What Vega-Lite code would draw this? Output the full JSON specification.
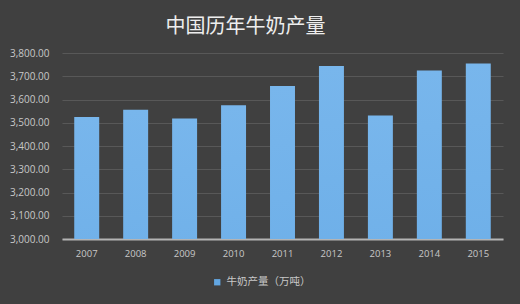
{
  "$schema": "https://vega.github.io/schema/vega-lite/v6.json",
  "autosize": "none",
  "width": 441,
  "height": 186,
  "padding": {"left": 62, "top": 53, "right": 17, "bottom": 65},
  "background": "#404040",
  "title": {
    "text": "中国历年牛奶产量",
    "font": "Noto Sans CJK SC",
    "fontSize": 20,
    "fontWeight": "normal",
    "color": "#eeeeee",
    "anchor": "middle",
    "dx": -37,
    "offset": 11
  },
  "data": {
    "values": [
      {"year": "2007", "value": 3525.2, "series": "牛奶产量（万吨）"},
      {"year": "2008", "value": 3555.8, "series": "牛奶产量（万吨）"},
      {"year": "2009", "value": 3518.8, "series": "牛奶产量（万吨）"},
      {"year": "2010", "value": 3575.6, "series": "牛奶产量（万吨）"},
      {"year": "2011", "value": 3657.8, "series": "牛奶产量（万吨）"},
      {"year": "2012", "value": 3743.6, "series": "牛奶产量（万吨）"},
      {"year": "2013", "value": 3531.4, "series": "牛奶产量（万吨）"},
      {"year": "2014", "value": 3724.6, "series": "牛奶产量（万吨）"},
      {"year": "2015", "value": 3754.7, "series": "牛奶产量（万吨）"}
    ]
  },
  "encoding": {
    "x": {
      "field": "year",
      "type": "ordinal",
      "scale": {"paddingInner": 0.49, "paddingOuter": 0.25},
      "axis": {
        "title": null,
        "labelAngle": 0,
        "labelColor": "#c8c8c8",
        "labelFont": "Open Sans",
        "labelFontSize": 9.5,
        "labelPadding": 9,
        "ticks": false,
        "domainColor": "#b4b4b4",
        "domainWidth": 2
      }
    },
    "y": {
      "field": "value",
      "type": "quantitative",
      "scale": {"domain": [3000, 3800], "zero": false, "nice": false},
      "axis": {
        "title": null,
        "values": [3000, 3100, 3200, 3300, 3400, 3500, 3600, 3700, 3800],
        "format": ",.2f",
        "labelColor": "#c8c8c8",
        "labelFont": "Open Sans",
        "labelFontSize": 10,
        "labelPadding": 13,
        "ticks": false,
        "domain": false,
        "gridColor": "#585858",
        "gridWidth": 1
      }
    }
  },
  "layer": [
    {
      "mark": {
        "type": "bar",
        "clip": true,
        "color": {
          "gradient": "linear",
          "x1": 0, "y1": 0, "x2": 0, "y2": 1,
          "stops": [
            {"offset": 0, "color": "#78b6ec"},
            {"offset": 1, "color": "#4a98dc"}
          ]
        }
      }
    },
    {
      "mark": {"type": "bar", "clip": true, "opacity": 0},
      "encoding": {
        "color": {
          "field": "series",
          "type": "nominal",
          "scale": {"range": ["#62a6e2"]},
          "legend": {
            "title": null,
            "orient": "none",
            "legendX": 150,
            "legendY": 224,
            "labelColor": "#c8c8c8",
            "labelFont": "Noto Sans CJK SC",
            "labelFontSize": 10.5,
            "symbolType": "square",
            "symbolSize": 40,
            "symbolOpacity": 1,
            "symbolStrokeWidth": 0
          }
        }
      }
    }
  ],
  "config": {
    "view": {"stroke": null}
  }
}
